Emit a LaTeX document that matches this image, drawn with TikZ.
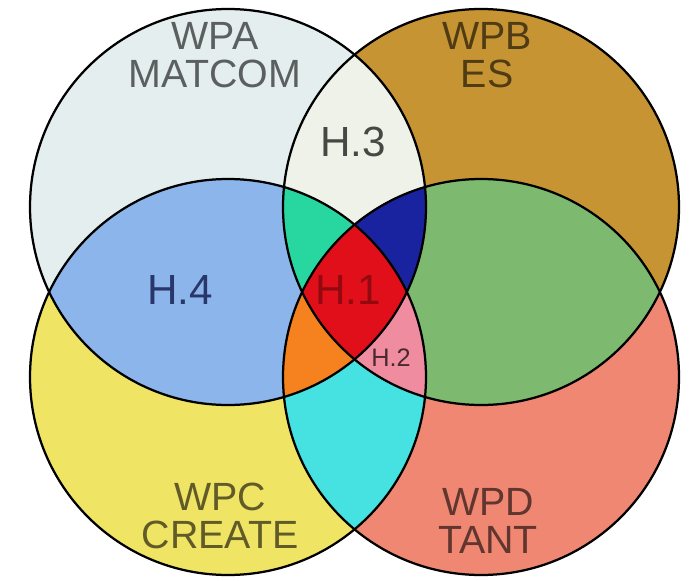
\documentclass[tikz,border=0pt]{standalone}
\usepackage{fontspec}
\setmainfont{Liberation Sans}
\usepackage{xcolor}
\usepackage{tikz}
\usetikzlibrary{positioning}

\definecolor{fillA}{RGB}{228,238,238}
\definecolor{fillB}{RGB}{198,148,50}
\definecolor{fillC}{RGB}{240,228,100}
\definecolor{fillD}{RGB}{240,135,115}
\definecolor{fillAB}{RGB}{238,242,232}
\definecolor{fillAC}{RGB}{140,182,235}
\definecolor{fillBD}{RGB}{125,185,110}
\definecolor{fillCD}{RGB}{70,225,225}
\definecolor{fillABC}{RGB}{40,215,160}
\definecolor{fillABD}{RGB}{25,35,160}
\definecolor{fillACD}{RGB}{245,130,30}
\definecolor{fillBCD}{RGB}{240,140,160}
\definecolor{fillABCD}{RGB}{225,15,25}

% the four work packages
\def\circA{(228,373) circle (198)}
\def\circB{(481,373) circle (198)}
\def\circC{(228,203) circle (198)}
\def\circD{(481,203) circle (198)}

\begin{document}
\begin{tikzpicture}[
            x=0.025cm, y=0.025cm,
            ring/.style={draw=black, line width=1.6pt},
            wp/.style={font=\fontsize{28}{27}\selectfont, text=black, text opacity=0.6, align=center, inner sep=0pt},
            hyp/.style={font=\fontsize{30}{32}\selectfont, text=black, text opacity=0.7, inner sep=0pt}
        ]
            \useasboundingbox (0,0) rectangle (694,580);
            \fill[white] (0,0) rectangle (694,580);

            % single circles
            \fill[fillA] \circA;
            \fill[fillB] \circB;
            \fill[fillC] \circC;
            \fill[fillD] \circD;

            % pairs
            \begin{scope} \clip \circA; \fill[fillAB] \circB; \end{scope}
            \begin{scope} \clip \circA; \fill[fillAC] \circC; \end{scope}
            \begin{scope} \clip \circB; \fill[fillBD] \circD; \end{scope}
            \begin{scope} \clip \circC; \fill[fillCD] \circD; \end{scope}

            % triples
            \begin{scope} \clip \circA; \clip \circB; \fill[fillABC] \circC; \end{scope}
            \begin{scope} \clip \circA; \clip \circB; \fill[fillABD] \circD; \end{scope}
            \begin{scope} \clip \circA; \clip \circC; \fill[fillACD] \circD; \end{scope}
            \begin{scope} \clip \circB; \clip \circC; \fill[fillBCD] \circD; \end{scope}

            % all four
            \begin{scope} \clip \circA; \clip \circB; \clip \circC; \fill[fillABCD] \circD; \end{scope}

            \draw[ring] \circA;
            \draw[ring] \circB;
            \draw[ring] \circC;
            \draw[ring] \circD;

            \node[wp] (wpa) at (215,525) {WPA\\MATCOM};
            \node[wp] (wpb) at (487,525) {WPB\\ES};
            \node[wp] (wpc) at (220,64) {WPC\\CREATE};
            \node[wp] (wpd) at (488,59) {WPD\\TANT};

            \node[hyp] (h3) at (353,438) {H.3};
            \node[hyp, text=black!80!blue] (h4) at (180,290) {H.4};
            \node[hyp, text opacity=0.35] (h1) at (348,290) {H.1};
            \node[hyp, font=\fontsize{18}{20}\selectfont] (h2) at (391,222) {H.2};
        \end{tikzpicture}
\end{document}
